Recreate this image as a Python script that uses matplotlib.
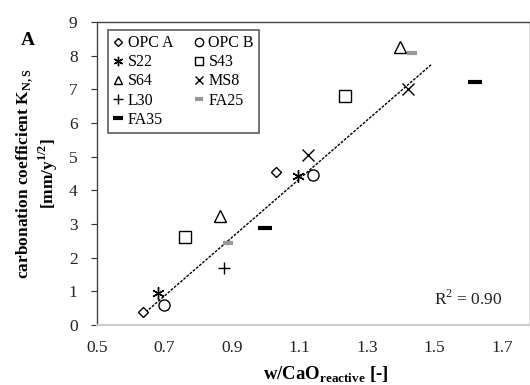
import matplotlib
matplotlib.use("Agg")
import matplotlib.pyplot as plt
from matplotlib.lines import Line2D

plt.rcParams['font.family'] = ['Liberation Serif', 'DejaVu Serif']
plt.rcParams['mathtext.fontset'] = 'custom'
plt.rcParams['mathtext.rm'] = 'Liberation Serif'
plt.rcParams['mathtext.bf'] = 'Liberation Serif:bold'

# Mix designs: w/CaO_reactive and carbonation coefficient
mixes = ["OPC A", "OPC B", "S22", "S43", "S64", "MS8", "L30", "FA25", "FA35"]
w_cao = {
    "OPC A": [0.637, 1.031],
    "OPC B": [0.700, 1.139],
    "S22":   [0.682, 1.097],
    "S43":   [0.760, 1.234],
    "S64":   [0.864, 1.399],
    "MS8":   [1.124, 1.422],
    "L30":   [0.876],
    "FA25":  [0.888, 1.434],
    "FA35":  [0.999, 1.619],
}
k_ns = {
    "OPC A": [0.39, 4.55],
    "OPC B": [0.60, 4.46],
    "S22":   [0.95, 4.43],
    "S43":   [2.62, 6.79],
    "S64":   [3.24, 8.27],
    "MS8":   [5.06, 7.00],
    "L30":   [1.70],
    "FA25":  [2.44, 8.09],
    "FA35":  [2.89, 7.23],
}

# Linear trend line
trend_slope = 8.69
trend_intercept = -5.22
trend_x = [0.635, 1.49]
r_squared = 0.90

styles = {
    "OPC A": dict(marker='D', ms=5.0, mfc='white', mec='black', mew=1.0),
    "OPC B": dict(marker='o', ms=8, mfc='white', mec='black', mew=1.0),
    "S22":   dict(marker=(6, 2, 0), ms=9, mfc='black', mec='black', mew=1.0),
    "S43":   dict(marker='s', ms=8.5, mfc='white', mec='black', mew=1.0),
    "S64":   dict(marker='^', ms=8.5, mfc='white', mec='black', mew=1.0),
    "MS8":   dict(marker='x', ms=8, mfc='black', mec='black', mew=1.0),
    "L30":   dict(marker='+', ms=9, mfc='black', mec='black', mew=1.0),
    "FA25":  dict(marker='_', ms=7, mfc='#999999', mec='#999999', mew=3.0),
    "FA35":  dict(marker='_', ms=10, mfc='black', mec='black', mew=3.0),
}

fig = plt.figure(figsize=(5.30, 3.85), dpi=100)
ax = fig.add_axes([0.183, 0.156, 0.815, 0.787])

handles = {}
for m in mixes:
    st = styles[m]
    ax.plot(w_cao[m], k_ns[m], linestyle='none', zorder=3, **st)
    lst = dict(st)
    lst['ms'] = st['ms'] * 0.75
    handles[m] = Line2D([], [], linestyle='none', **lst)

tx = trend_x
ty = [trend_slope * v + trend_intercept for v in tx]
ax.plot(tx, ty, color='black', lw=1.0, linestyle=(0, (2, 1)), zorder=2)

ax.set_xlim(0.5, 1.78)
ax.set_ylim(0, 9)
ax.set_xticks([0.5, 0.7, 0.9, 1.1, 1.3, 1.5, 1.7])
ax.set_yticks(range(0, 10))
ax.tick_params(axis='both', labelsize=12.5, colors='#333333', labelcolor='#222222')
ax.tick_params(axis='x', length=0, pad=11)
ax.tick_params(axis='y', length=4, width=0.8, pad=10)

for side in ['top', 'left']:
    ax.spines[side].set_color('#444444')
    ax.spines[side].set_linewidth(1.0)
ax.spines['bottom'].set_color('#cccccc')
ax.spines['bottom'].set_linewidth(1.5)
ax.spines['right'].set_color('#dddddd')

ax.set_xlabel(r"w/CaO$_{\mathbf{reactive}}$ [-]", fontsize=13.5, fontweight='bold', labelpad=3)
ax.xaxis.set_label_coords(0.53, -0.13)
ax.set_ylabel("carbonation coefficient K$_{\\mathbf{N,S}}$\n[mm/y$^{\\mathbf{1/2}}$]",
              fontsize=12.5, fontweight='bold', labelpad=6, linespacing=1.1)

ax.text(0.94, 0.085, "R$^2$ = %.2f" % r_squared, transform=ax.transAxes,
        ha='right', va='center', fontsize=12.5, color='#222222')

fig.text(0.053, 0.895, "A", fontsize=14, fontweight='bold', ha='center', va='center')

order = ["OPC A", "S22", "S64", "L30", "FA35", "OPC B", "S43", "MS8", "FA25"]
leg = ax.legend([handles[m] for m in order], order, ncol=2, loc='upper left',
                bbox_to_anchor=(0.025, 0.975), fontsize=11.5, frameon=True,
                fancybox=False, edgecolor='#333333', handlelength=0.6,
                handletextpad=0.3, columnspacing=1.3, labelspacing=0.2,
                borderpad=0.35, borderaxespad=0)
leg.get_frame().set_linewidth(1.2)

fig.savefig("out.png", dpi=100, facecolor='white')
